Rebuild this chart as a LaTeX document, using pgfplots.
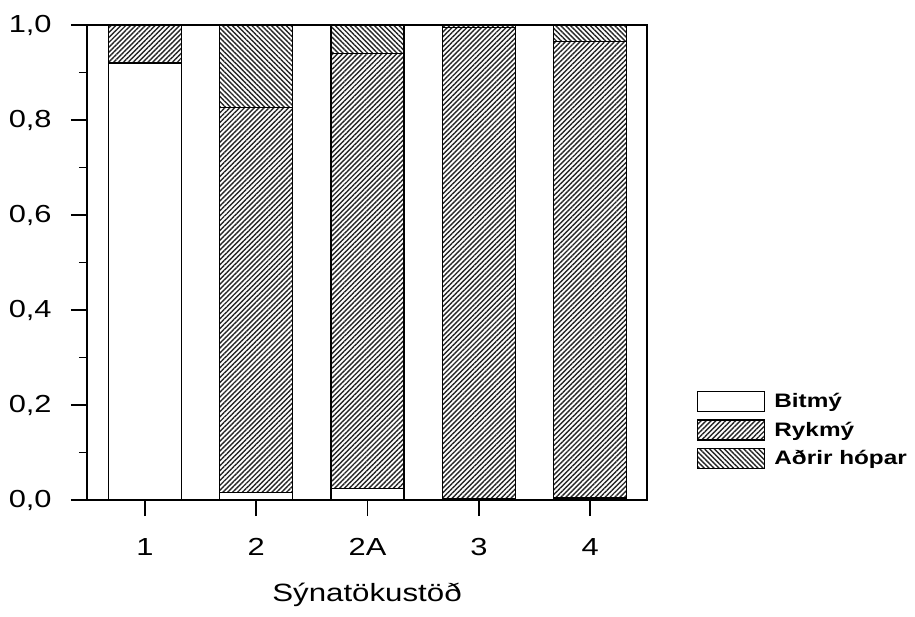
\documentclass[border=0pt]{standalone}
\usepackage{pgfplots}
\pgfplotsset{compat=1.18}
\usepackage{pgfplotstable}
\usetikzlibrary{patterns.meta}
\usepackage{fontspec}
\setmainfont[FakeStretch=1.25]{Liberation Sans}

% Share of each group per sampling station
\pgfplotstableread{
x   bit    ryk    adr
1   0.920  0.080  0.000
2   0.015  0.812  0.173
3   0.025  0.915  0.060
4   0.003  0.992  0.005
5   0.004  0.961  0.035
}\data

\begin{document}
\begin{tikzpicture}
\path (-65.25pt,-87.75pt) rectangle (621pt,375pt);
\begin{axis}[
  at={(0,0)}, anchor=south west,
  scale only axis, width=420pt, height=356.25pt,
  ybar stacked, bar width=0.655,
  xmin=0.48, xmax=5.51, ymin=0, ymax=1,
  xtick={1,2,3,4,5}, xticklabels={1,2,2A,3,4},
  ytick={0,0.2,0.4,0.6,0.8,1}, minor y tick num=1,
  tick align=outside, xtick pos=left, ytick pos=left,
  major tick length=12pt, minor tick length=6pt,
  axis line style={line width=1.3pt},
  every tick/.style={black, line width=1.3pt},
  tick label style={font=\fontsize{18.5pt}{21pt}\selectfont},
  yticklabel style={xshift=-11pt, /pgf/number format/.cd, fixed, fixed zerofill, precision=1, use comma, assume math mode=true},
  xticklabel style={yshift=-13pt},
  xlabel={Sýnatökustöð},
  xlabel style={font=\fontsize{18.75pt}{22pt}\selectfont, at={(axis description cs:0.5,0)}, anchor=north, yshift=-59pt},
  legend style={at={(1.082,0.236)}, anchor=north west, draw=none, fill=none,
    font=\bfseries\fontsize{14.6pt}{16pt}\selectfont, row sep=5pt, column sep=5pt},
  legend cell align=left,
  legend image code/.code={\draw[#1] (0pt,-7.5pt) rectangle (50pt,7.5pt);},
]
\addplot[fill=white, draw=black, line width=0.9pt] table[x=x, y=bit]{\data};
\addplot[pattern={Lines[angle=45, distance=2.6pt, line width=1.05pt]}, pattern color=black!85, draw=black, line width=0.9pt] table[x=x, y=ryk]{\data};
\addplot[pattern={Lines[angle=-45, distance=2.6pt, line width=1.05pt]}, pattern color=black!85, draw=black, line width=0.9pt] table[x=x, y=adr]{\data};
\legend{Bitmý, Rykmý, Aðrir hópar}
\end{axis}
\end{tikzpicture}
\end{document}
